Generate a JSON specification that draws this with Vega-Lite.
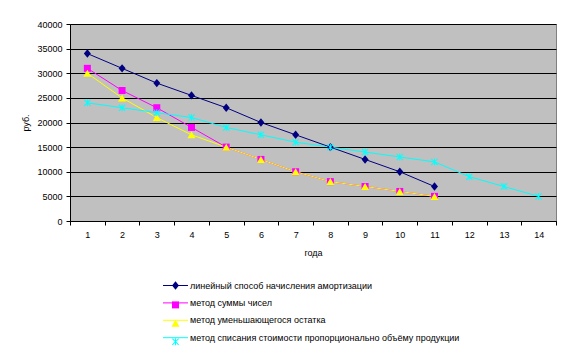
{
  "$schema": "https://vega.github.io/schema/vega-lite/v6.json",
  "width": 486,
  "height": 197,
  "autosize": {"type": "none"},
  "padding": {"left": 70, "top": 24, "right": 15, "bottom": 132},
  "background": "white",
  "config": {
    "font": "Liberation Sans",
    "view": {"fill": "#C0C0C0", "stroke": "#808080", "strokeWidth": 1},
    "axis": {
      "labelFont": "Liberation Sans",
      "titleFont": "Liberation Sans",
      "labelFontSize": 9,
      "titleFontSize": 9,
      "titleFontWeight": "normal",
      "labelColor": "#000000",
      "titleColor": "#000000",
      "domainColor": "#000000",
      "tickColor": "#000000",
      "tickSize": 4
    },
    "legend": {"labelFont": "Liberation Sans", "labelFontSize": 9, "labelColor": "#000000", "labelLimit": 0}
  },
  "data": {
    "values": [
      {"year": 1, "series": "линейный способ начисления амортизации", "value": 34000},
      {"year": 2, "series": "линейный способ начисления амортизации", "value": 31000},
      {"year": 3, "series": "линейный способ начисления амортизации", "value": 28000},
      {"year": 4, "series": "линейный способ начисления амортизации", "value": 25500},
      {"year": 5, "series": "линейный способ начисления амортизации", "value": 23000},
      {"year": 6, "series": "линейный способ начисления амортизации", "value": 20000},
      {"year": 7, "series": "линейный способ начисления амортизации", "value": 17500},
      {"year": 8, "series": "линейный способ начисления амортизации", "value": 15000},
      {"year": 9, "series": "линейный способ начисления амортизации", "value": 12500},
      {"year": 10, "series": "линейный способ начисления амортизации", "value": 10000},
      {"year": 11, "series": "линейный способ начисления амортизации", "value": 7000},
      {"year": 1, "series": "метод суммы чисел", "value": 31000},
      {"year": 2, "series": "метод суммы чисел", "value": 26500},
      {"year": 3, "series": "метод суммы чисел", "value": 23000},
      {"year": 4, "series": "метод суммы чисел", "value": 19000},
      {"year": 5, "series": "метод суммы чисел", "value": 15000},
      {"year": 6, "series": "метод суммы чисел", "value": 12500},
      {"year": 7, "series": "метод суммы чисел", "value": 10000},
      {"year": 8, "series": "метод суммы чисел", "value": 8000},
      {"year": 9, "series": "метод суммы чисел", "value": 7000},
      {"year": 10, "series": "метод суммы чисел", "value": 6000},
      {"year": 11, "series": "метод суммы чисел", "value": 5000},
      {"year": 1, "series": "метод уменьшающегося остатка", "value": 30000},
      {"year": 2, "series": "метод уменьшающегося остатка", "value": 25000},
      {"year": 3, "series": "метод уменьшающегося остатка", "value": 21000},
      {"year": 4, "series": "метод уменьшающегося остатка", "value": 17500},
      {"year": 5, "series": "метод уменьшающегося остатка", "value": 15000},
      {"year": 6, "series": "метод уменьшающегося остатка", "value": 12500},
      {"year": 7, "series": "метод уменьшающегося остатка", "value": 10000},
      {"year": 8, "series": "метод уменьшающегося остатка", "value": 8000},
      {"year": 9, "series": "метод уменьшающегося остатка", "value": 7000},
      {"year": 10, "series": "метод уменьшающегося остатка", "value": 6000},
      {"year": 11, "series": "метод уменьшающегося остатка", "value": 5000},
      {"year": 1, "series": "метод списания стоимости пропорционально объёму продукции", "value": 24000},
      {"year": 2, "series": "метод списания стоимости пропорционально объёму продукции", "value": 23000},
      {"year": 3, "series": "метод списания стоимости пропорционально объёму продукции", "value": 22000},
      {"year": 4, "series": "метод списания стоимости пропорционально объёму продукции", "value": 21000},
      {"year": 5, "series": "метод списания стоимости пропорционально объёму продукции", "value": 19000},
      {"year": 6, "series": "метод списания стоимости пропорционально объёму продукции", "value": 17500},
      {"year": 7, "series": "метод списания стоимости пропорционально объёму продукции", "value": 16000},
      {"year": 8, "series": "метод списания стоимости пропорционально объёму продукции", "value": 15000},
      {"year": 9, "series": "метод списания стоимости пропорционально объёму продукции", "value": 14000},
      {"year": 10, "series": "метод списания стоимости пропорционально объёму продукции", "value": 13000},
      {"year": 11, "series": "метод списания стоимости пропорционально объёму продукции", "value": 12000},
      {"year": 12, "series": "метод списания стоимости пропорционально объёму продукции", "value": 9000},
      {"year": 13, "series": "метод списания стоимости пропорционально объёму продукции", "value": 7000},
      {"year": 14, "series": "метод списания стоимости пропорционально объёму продукции", "value": 5000}
    ]
  },
  "encoding": {
    "x": {
      "field": "year",
      "type": "ordinal",
      "bandPosition": 0.5,
      "scale": {"type": "band", "paddingInner": 0, "paddingOuter": 0, "domain": [1,2,3,4,5,6,7,8,9,10,11,12,13,14]},
      "axis": {"title": "года", "labelAngle": 0, "tickBand": "extent", "grid": false, "labelPadding": 5, "titlePadding": 9}
    },
    "y": {
      "field": "value",
      "type": "quantitative",
      "scale": {"domain": [0, 40000], "nice": false},
      "axis": {
        "title": "руб.",
        "values": [0, 5000, 10000, 15000, 20000, 25000, 30000, 35000, 40000],
        "format": "d",
        "grid": true,
        "gridColor": "#000000",
        "gridWidth": 1,
        "gridOpacity": 1,
        "labelPadding": 4,
        "titlePadding": 6
      }
    }
  },
  "layer": [
    {
      "mark": {"type": "line", "strokeWidth": 1},
      "encoding": {
        "stroke": {
          "field": "series",
          "type": "nominal",
          "sort": ["линейный способ начисления амортизации", "метод суммы чисел", "метод уменьшающегося остатка", "метод списания стоимости пропорционально объёму продукции"],
          "scale": {"range": ["#000080", "#FF00FF", "#FFFF00", "#00FFFF"]},
          "legend": {
            "title": null,
            "orient": "none",
            "legendX": 101,
            "legendY": 257,
            "direction": "vertical",
            "padding": 0,
            "symbolType": "M-3.57,0L3.57,0",
            "symbolSize": 49,
            "symbolStrokeWidth": 1,
            "symbolFillColor": "transparent",
            "symbolOpacity": 1,
            "labelOffset": 10,
            "rowPadding": 7.4,
            "labelLimit": 0
          }
        }
      }
    },
    {
      "mark": {"type": "point", "filled": true, "size": 49, "opacity": 1},
      "encoding": {
        "fill": {
          "field": "series",
          "type": "nominal",
          "scale": {
            "domain": ["линейный способ начисления амортизации", "метод суммы чисел", "метод уменьшающегося остатка", "метод списания стоимости пропорционально объёму продукции"],
            "range": ["#000080", "#FF00FF", "#FFFF00", "#00FFFF"]
          },
          "legend": {
            "title": null,
            "orient": "none",
            "legendX": 101,
            "legendY": 257,
            "direction": "vertical",
            "padding": 0,
            "symbolSize": 49,
            "symbolStrokeWidth": 1,
            "symbolOpacity": 1,
            "labelOffset": 10,
            "labelOpacity": 0,
            "rowPadding": 7.4,
            "labelLimit": 0
          }
        },
        "shape": {
          "field": "series",
          "type": "nominal",
          "scale": {
            "domain": ["линейный способ начисления амортизации", "метод суммы чисел", "метод уменьшающегося остатка", "метод списания стоимости пропорционально объёму продукции"],
            "range": [
              "M0,-1.2L1,0L0,1.2L-1,0Z",
              "M-1,-1L1,-1L1,1L-1,1Z",
              "M0,-1L1.15,1L-1.15,1Z",
              "M-0.14,-1L0.14,-1L0.14,1L-0.14,1ZM-1,-0.8L-0.8,-1L1,0.8L0.8,1ZM0.8,-1L1,-0.8L-0.8,1L-1,0.8Z"
            ]
          },
          "legend": {
            "title": null,
            "orient": "none",
            "legendX": 101,
            "legendY": 257,
            "direction": "vertical",
            "padding": 0,
            "symbolSize": 49,
            "symbolStrokeWidth": 1,
            "symbolOpacity": 1,
            "labelOffset": 10,
            "labelOpacity": 0,
            "rowPadding": 7.4,
            "labelLimit": 0
          }
        }
      }
    }
  ]
}
